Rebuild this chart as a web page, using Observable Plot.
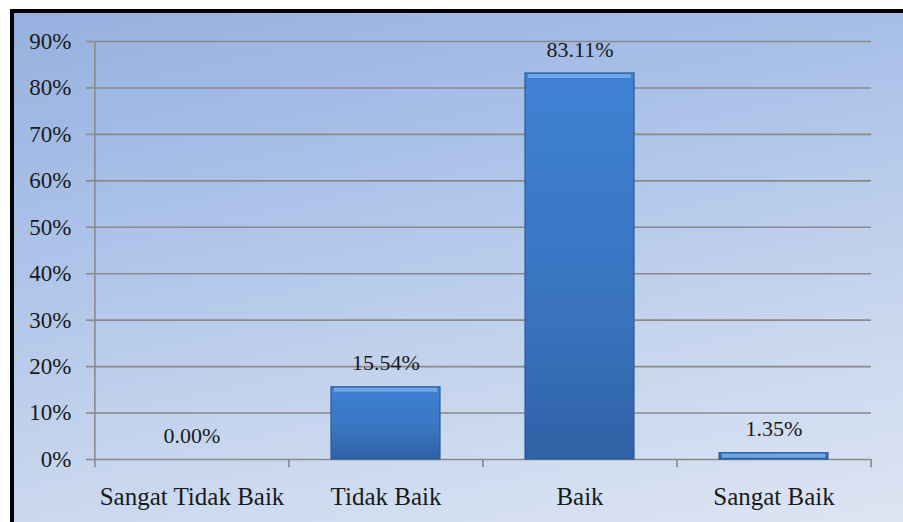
<!DOCTYPE html>
<html>
<head>
<meta charset="utf-8">
<script src="https://cdn.jsdelivr.net/npm/d3@7"></script>
<script src="https://cdn.jsdelivr.net/npm/@observablehq/plot@0.6"></script>
<style>
  html, body { margin: 0; padding: 0; background: #ffffff; width: 903px; height: 522px; overflow: hidden; }
  #frame { position: absolute; left: 10px; top: 9px; width: 903px; height: 522px;
    border-left: 4px solid #000; border-top: 4px solid #000;
    background: linear-gradient(168deg, #96b1e0 0%, #a9c0e8 30%, #c6d5ee 65%, #dfe6f3 100%); }
  #chart { position: absolute; left: 0; top: 0; }
</style>
</head>
<body>
<div id="frame"></div>
<div id="chart"></div>
<script>
const categories = ["Sangat Tidak Baik", "Tidak Baik", "Baik", "Sangat Baik"];
const values = [0.00, 15.54, 83.11, 1.35];
const yTicks = [0, 10, 20, 30, 40, 50, 60, 70, 80, 90];

const data = categories.map((c, i) => ({category: c, value: values[i]}));
const font = "'Liberation Serif', 'Times New Roman', serif";
const step = 777 / 4;

const chart = Plot.plot({
  width: 903,
  height: 522,
  marginLeft: 94,
  marginRight: 32,
  marginTop: 41,
  marginBottom: 63,
  style: {background: "transparent", fontFamily: font, fontSize: "22px", color: "#1a1a1a"},
  x: {domain: categories, paddingInner: 0.44, paddingOuter: 0.22, label: null},
  y: {domain: [0, 90], label: null},
  marks: [
    Plot.ruleY(yTicks, {stroke: "#8a8a8a", strokeWidth: 1.6, strokeOpacity: 1}),
    Plot.axisY({ticks: yTicks, tickFormat: d => d + "%", tickSize: 8, tickPadding: 15,
      stroke: "#8a8a8a", strokeWidth: 1.6, strokeOpacity: 1, fontSize: 23, fill: "#1a1a1a", label: null}),
    Plot.axisX({tickSize: 0, tickPadding: 28, fontSize: 25, fill: "#1a1a1a", label: null}),
    Plot.ruleX(categories, {x: d => d, dx: -step / 2, y1: d => d === categories[0] ? 90 : 0, y2: -1.75,
      stroke: "#8a8a8a", strokeWidth: 1.6}),
    Plot.ruleX([categories[categories.length - 1]], {x: d => d, dx: step / 2, y1: 0, y2: -1.75,
      stroke: "#8a8a8a", strokeWidth: 1.6}),
    Plot.barY(data, {x: "category", y: "value", fill: "url(#barGrad)", stroke: "#2b5a94", strokeWidth: 1.2}),
    Plot.tickY(data.filter(d => d.value > 0), {x: "category", y: "value", dy: 2.5, insetLeft: 3, insetRight: 3,
      stroke: "#6ea6e8", strokeWidth: 4}),
    Plot.text(data, {x: "category", y: "value", text: d => d.value.toFixed(2) + "%", dy: -24,
      fontSize: 22, fill: "#1a1a1a"})
  ]
});

const svg = d3.select(chart);
const defs = svg.insert("defs", ":first-child");
const g = defs.append("linearGradient").attr("id", "barGrad").attr("x1", 0).attr("y1", 0).attr("x2", 0).attr("y2", 1);
g.append("stop").attr("offset", "0%").attr("stop-color", "#3f82d4");
g.append("stop").attr("offset", "60%").attr("stop-color", "#3a74c0");
g.append("stop").attr("offset", "100%").attr("stop-color", "#2f62a6");

document.getElementById("chart").appendChild(chart);
</script>
</body>
</html>
